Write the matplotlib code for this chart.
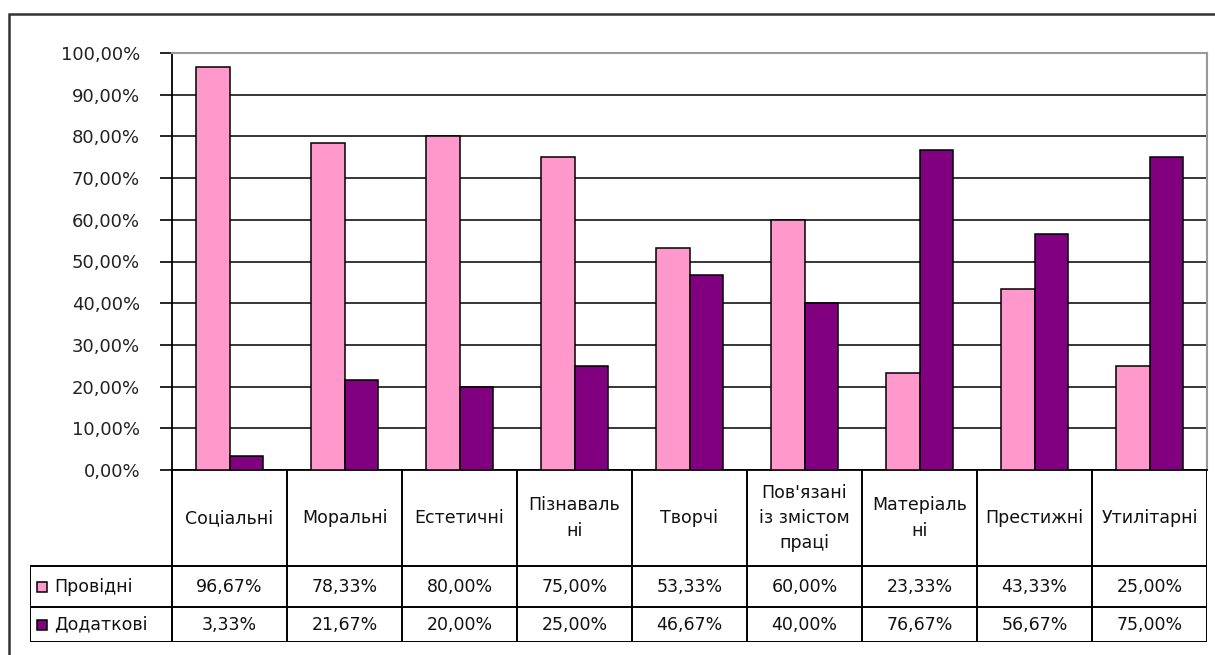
import matplotlib.pyplot as plt
import numpy as np
from matplotlib.patches import Rectangle
from matplotlib.lines import Line2D

categories = [
    "Соціальні",
    "Моральні",
    "Естетичні",
    "Пізнаваль\nні",
    "Творчі",
    "Пов'язані\nіз змістом\nпраці",
    "Матеріаль\nні",
    "Престижні",
    "Утилітарні",
]
series_names = ["Провідні", "Додаткові"]
leading = [96.67, 78.33, 80.00, 75.00, 53.33, 60.00, 23.33, 43.33, 25.00]
additional = [3.33, 21.67, 20.00, 25.00, 46.67, 40.00, 76.67, 56.67, 75.00]
colors = ["#FF99CC", "#800080"]

W, H = 1215, 655
plt.rcParams["font.family"] = ["DejaVu Sans"]


def fx(px):
    return px / W


def fy(py):
    return 1 - py / H


def pct(v):
    return f"{v:.2f}%".replace(".", ",")


fig = plt.figure(figsize=(W / 100, H / 100), dpi=100)

# outer chart frame
fig.patches.append(Rectangle((fx(9), fy(700)), 1.2, fy(14) - fy(700), transform=fig.transFigure,
                             fill=False, edgecolor="#333333", linewidth=1.8))

# bar plot area
ax = fig.add_axes([fx(172), fy(470), fx(1207) - fx(172), (470 - 53) / H])
n = len(categories)
x = np.arange(n)
w = 0.29
ax.bar(x - w / 2, leading, w, color=colors[0], edgecolor="black", linewidth=1.1, zorder=3)
ax.bar(x + w / 2, additional, w, color=colors[1], edgecolor="black", linewidth=1.1, zorder=3)
ax.set_xlim(-0.5, n - 0.5)
ax.set_ylim(0, 100)
yt = np.arange(0, 101, 10)
ax.set_yticks(yt)
ax.set_yticklabels([pct(v) for v in yt], fontsize=13, color="#222222")
ax.tick_params(axis="y", length=9, width=1.2, pad=14)
ax.set_xticks([])
ax.grid(axis="y", color="black", linewidth=1.1, zorder=0)
ax.set_axisbelow(True)
for s in ["left", "bottom"]:
    ax.spines[s].set_color("black")
    ax.spines[s].set_linewidth(1.3)
for s in ["top", "right"]:
    ax.spines[s].set_color("#999999")
    ax.spines[s].set_linewidth(1.5)

# data table under the bars
tax = fig.add_axes([fx(30), fy(642), fx(1207) - fx(30), (642 - 470) / H])
left = -0.5 - 142 / 115
tax.set_xlim(left, n - 0.5)
tax.set_ylim(172, 0)
tax.axis("off")
lw = 1.4
for i in range(n + 1):
    tax.add_line(Line2D([i - 0.5, i - 0.5], [0, 172], color="black", linewidth=lw))
tax.add_line(Line2D([left, left], [96, 172], color="black", linewidth=lw))
for yy in [96, 137, 172]:
    tax.add_line(Line2D([left, n - 0.5], [yy, yy], color="black", linewidth=lw))

for i, cat in enumerate(categories):
    tax.text(i, 48, cat, ha="center", va="center", fontsize=12.5, linespacing=1.5, color="#111111")

row_y = [116.5, 154.5]
for r, vals in enumerate([leading, additional]):
    for i, v in enumerate(vals):
        tax.text(i, row_y[r], pct(v), ha="center", va="center", fontsize=12.5, color="#111111")
    key_x = left + 12 / 115
    tax.add_patch(Rectangle((key_x - 5 / 115, row_y[r] - 5), 10 / 115, 10,
                            facecolor=colors[r], edgecolor="black", linewidth=1.1))
    tax.text(left + 24 / 115, row_y[r], series_names[r], ha="left", va="center",
             fontsize=12.5, color="#111111")

fig.savefig("out.png", dpi=100)
